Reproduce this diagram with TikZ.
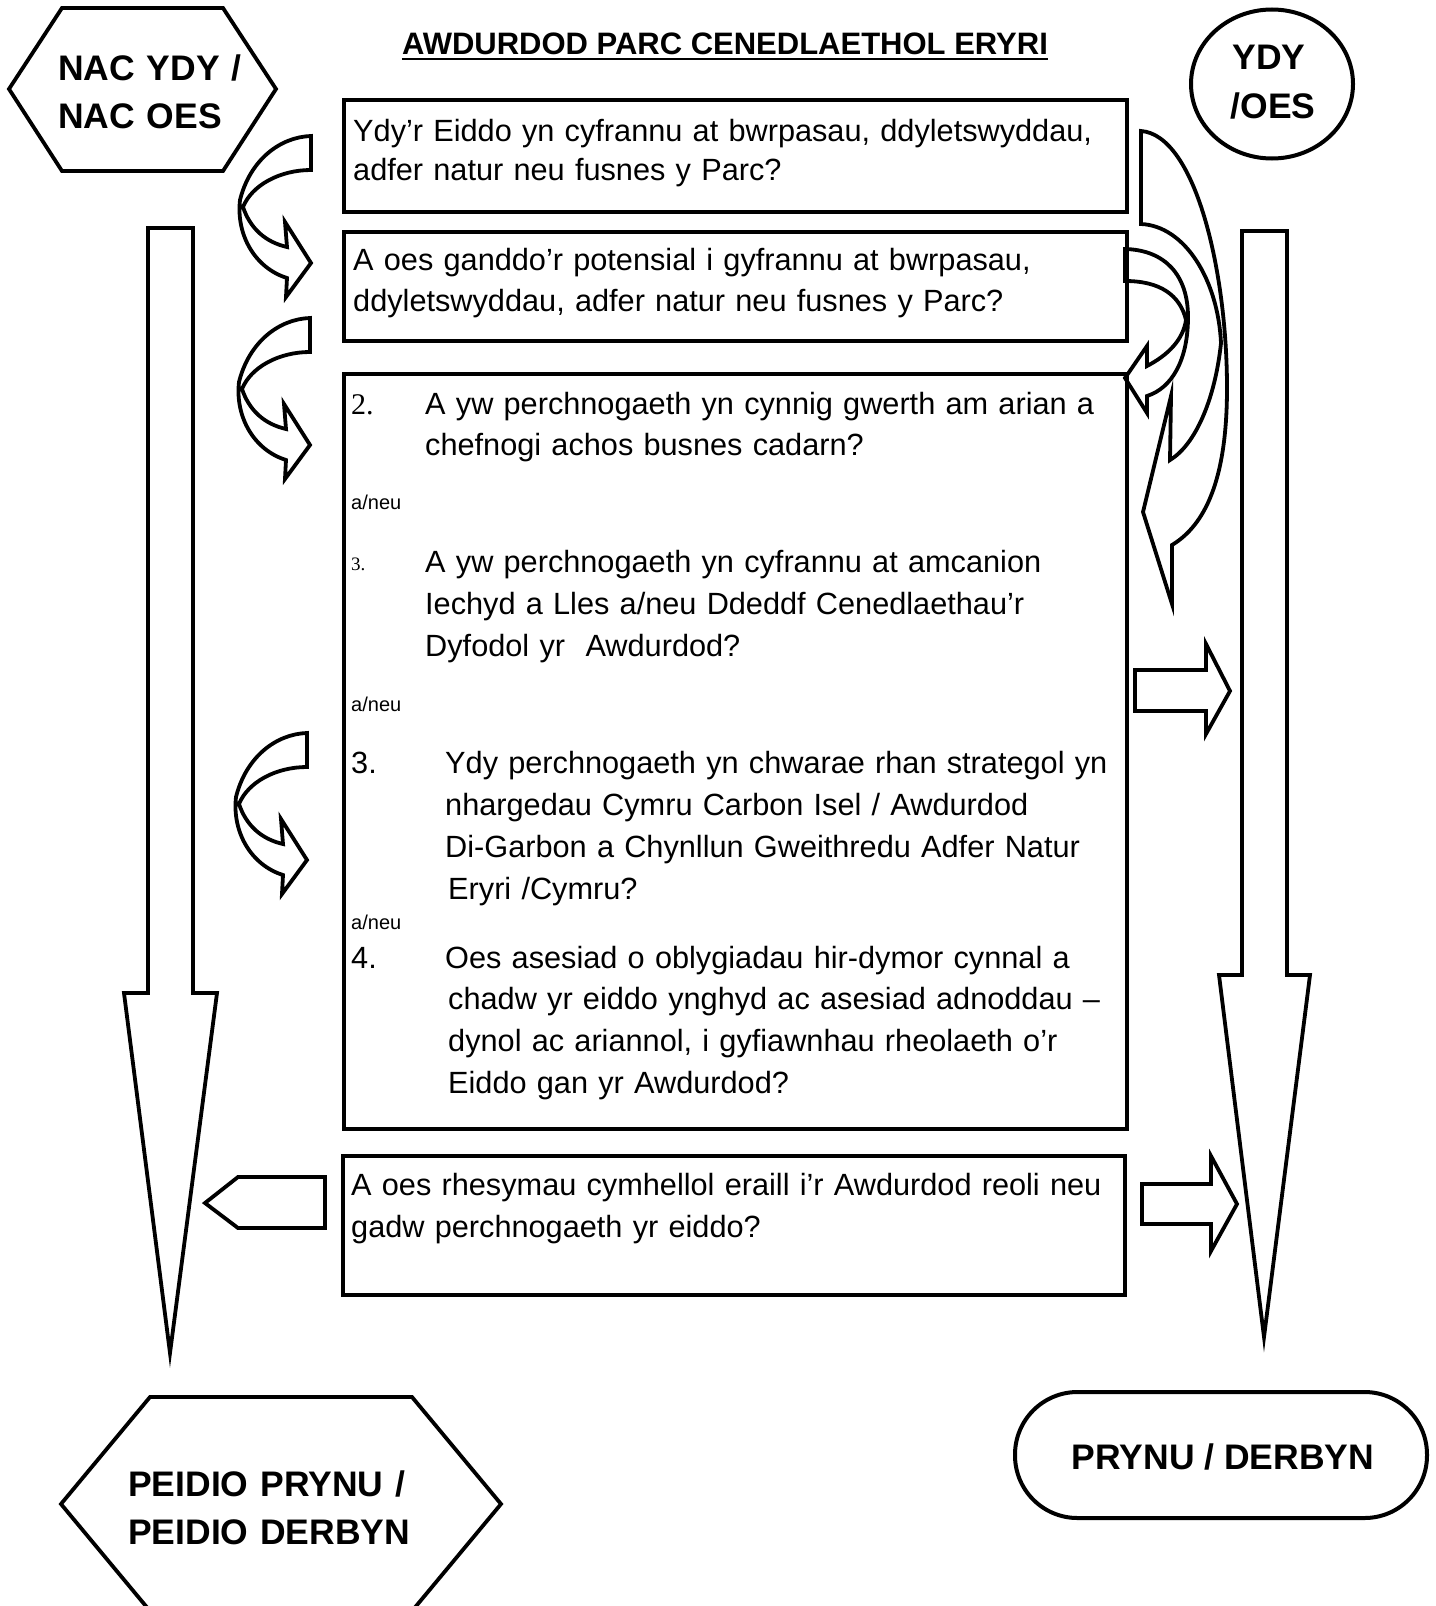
\documentclass[tikz,border=0pt]{standalone}
\usepackage{fontspec}
\setmainfont{Liberation Sans}
\newfontfamily\serifnum{Liberation Serif}
\usetikzlibrary{shapes.geometric}
\begin{document}
\begin{tikzpicture}[x=1pt,y=-1pt,
  box/.style={draw, line width=4, rectangle, anchor=north west, inner sep=0},
  blk/.style={draw, line width=3.8, line join=miter, miter limit=25, fill=white},
  txt/.style={anchor=base west, inner sep=0, text width=#1, align=left, font=\fontsize{30.7}{41}\selectfont},
  txt/.default=770,
  lbl/.style={inner sep=0, font=\bfseries\fontsize{35.5}{48}\selectfont},
  small/.style={anchor=base west, inner sep=0, font=\fontsize{20}{24}\selectfont},
]
\useasboundingbox (0,0) rectangle (1435,1606);
\fill[white] (0,0) rectangle (1435,1606);

% title
\node[anchor=base, inner sep=0, font=\bfseries\fontsize{31}{36}\selectfont] (title) at (725,54) {AWDURDOD PARC CENEDLAETHOL ERYRI};
\draw[line width=2.5] ([yshift=-5]title.base west) -- ([yshift=-5]title.base east);

% big down arrows
\draw[blk] (148,228) -- (193,228) -- (193,993) -- (217,993) -- (170,1353) -- (124,993) -- (148,993) -- cycle;
\draw[blk] (1242,231) -- (1287,231) -- (1287,975) -- (1310,975) -- (1264,1337) -- (1219,975) -- (1242,975) -- cycle;

% left curved arrows
\foreach \dx/\dy in {0/0,-1/182,-4/597}{
  \draw[blk, shift={(\dx,\dy)}] (311,136) .. controls (280,137) and (250,160) .. (240,200)
    .. controls (236,235) and (255,268) .. (287,278) -- (286,297) -- (311,263) -- (285,222) -- (287,247)
    .. controls (265,242) and (250,228) .. (243,207)
    .. controls (252,185) and (280,170) .. (311,170) -- cycle;
}

% right curved arrows
\draw[blk] (1141,131) .. controls (1195,135) and (1227,270) .. (1227,388)
  .. controls (1227,480) and (1205,525) .. (1172,545) -- (1172,604) -- (1143,512) -- (1171,396) -- (1170,460)
  .. controls (1195,445) and (1215,400) .. (1221,343)
  .. controls (1218,280) and (1185,226) .. (1141,224) -- cycle;
\draw[blk] (1125,249) .. controls (1165,250) and (1188,275) .. (1188,317)
  .. controls (1188,360) and (1172,388) .. (1147,396) -- (1147,413) -- (1125,378) -- (1147,346) -- (1147,366)
  .. controls (1168,355) and (1183,340) .. (1186,320)
  .. controls (1180,295) and (1160,281) .. (1125,281) -- cycle;

% straight block arrows
\draw[blk] (1135,670) -- (1206,670) -- (1206,644) -- (1230,691) -- (1206,734) -- (1206,711) -- (1135,711) -- cycle;
\draw[blk] (1142,1184) -- (1211,1184) -- (1211,1156) -- (1237,1204) -- (1211,1251) -- (1211,1224) -- (1142,1224) -- cycle;
\draw[blk] (205,1203) -- (238,1177) -- (325,1177) -- (325,1228) -- (238,1228) -- cycle;

% boxes
\node[box, minimum width=783, minimum height=112] (b1) at (342,98) {};
\node[box, minimum width=783, minimum height=109] (b2) at (342,230) {};
\node[box, minimum width=783, minimum height=755] (b3) at (342,372) {};
\node[box, minimum width=782, minimum height=139] (b4) at (341,1154) {};

\node[txt, font=\fontsize{30.7}{39}\selectfont] (q1) at (353,141) {Ydy’r Eiddo yn cyfrannu at bwrpasau, ddyletswyddau,\\adfer natur neu fusnes y Parc?};
\node[txt] (q2) at (353,270) {A oes ganddo’r potensial i gyfrannu at bwrpasau,\\ddyletswyddau, adfer natur neu fusnes y Parc?};

\node[anchor=base west, inner sep=0, font=\serifnum\fontsize{30}{36}\selectfont] (n2) at (351,414) {2.};
\node[txt, text width=690] (q3) at (425,414) {A yw perchnogaeth yn cynnig gwerth am arian a\\chefnogi achos busnes cadarn?};
\node[small] (o1) at (351,509) {a/neu};
\node[anchor=base west, inner sep=0, font=\serifnum\fontsize{19}{24}\selectfont] (n3a) at (351,570) {3.};
\node[txt, text width=690, font=\fontsize{30.7}{42}\selectfont] (q4) at (425,572) {A yw perchnogaeth yn cyfrannu at amcanion\\Iechyd a Lles a/neu Ddeddf Cenedlaethau’r\\Dyfodol yr\ \ Awdurdod?};
\node[small] (o2) at (351,711) {a/neu};
\node[anchor=base west, inner sep=0, font=\fontsize{30.7}{41}\selectfont] (n3b) at (351,773) {3.};
\node[txt, text width=680, font=\fontsize{30.7}{42}\selectfont] (q5) at (445,773) {Ydy perchnogaeth yn chwarae rhan strategol yn\\nhargedau Cymru Carbon Isel / Awdurdod\\Di-Garbon a Chynllun Gweithredu Adfer Natur\\\hspace*{3pt}Eryri /Cymru?};
\node[small] (o3) at (351,929) {a/neu};
\node[anchor=base west, inner sep=0, font=\fontsize{30.7}{41}\selectfont] (n4) at (351,968) {4.};
\node[txt, text width=680, font=\fontsize{30.7}{41.7}\selectfont] (q6) at (445,968) {Oes asesiad o oblygiadau hir-dymor cynnal a\\\hspace*{3pt}chadw yr eiddo ynghyd ac asesiad adnoddau –\\\hspace*{3pt}dynol ac ariannol, i gyfiawnhau rheolaeth o’r\\\hspace*{3pt}Eiddo gan yr Awdurdod?};

\node[txt, font=\fontsize{30.7}{42}\selectfont] (q7) at (351,1195) {A oes rhesymau cymhellol eraill i’r Awdurdod reoli neu\\gadw perchnogaeth yr eiddo?};

% outcome shapes
\draw[blk] (9,89) -- (62,8) -- (223,8) -- (276,89) -- (223,171) -- (62,171) -- cycle;
\node[lbl, anchor=base west, text width=240, align=left] (nac) at (58,80) {NAC YDY /\\NAC OES};

\node[draw, ellipse, line width=4, minimum width=162, minimum height=149, inner sep=0] (ydyshape) at (1272,84) {};
\node[lbl, anchor=base] (ydy1) at (1269,69) {YDY};
\node[lbl, anchor=base] (ydy2) at (1273,118) {/OES};

\draw[blk] (61,1504) -- (150,1397) -- (412,1397) -- (501,1504) -- (412,1611) -- (150,1611) -- cycle;
\node[lbl, anchor=base west, text width=330, align=left] (peidio) at (128,1496) {PEIDIO PRYNU /\\PEIDIO DERBYN};

\node[draw, line width=4, rounded corners=62.5, minimum width=412, minimum height=126, inner sep=0] (prynushape) at (1221,1455) {};
\node[lbl, anchor=base] (prynu) at (1223,1469) {PRYNU / DERBYN};
\end{tikzpicture}
\end{document}
